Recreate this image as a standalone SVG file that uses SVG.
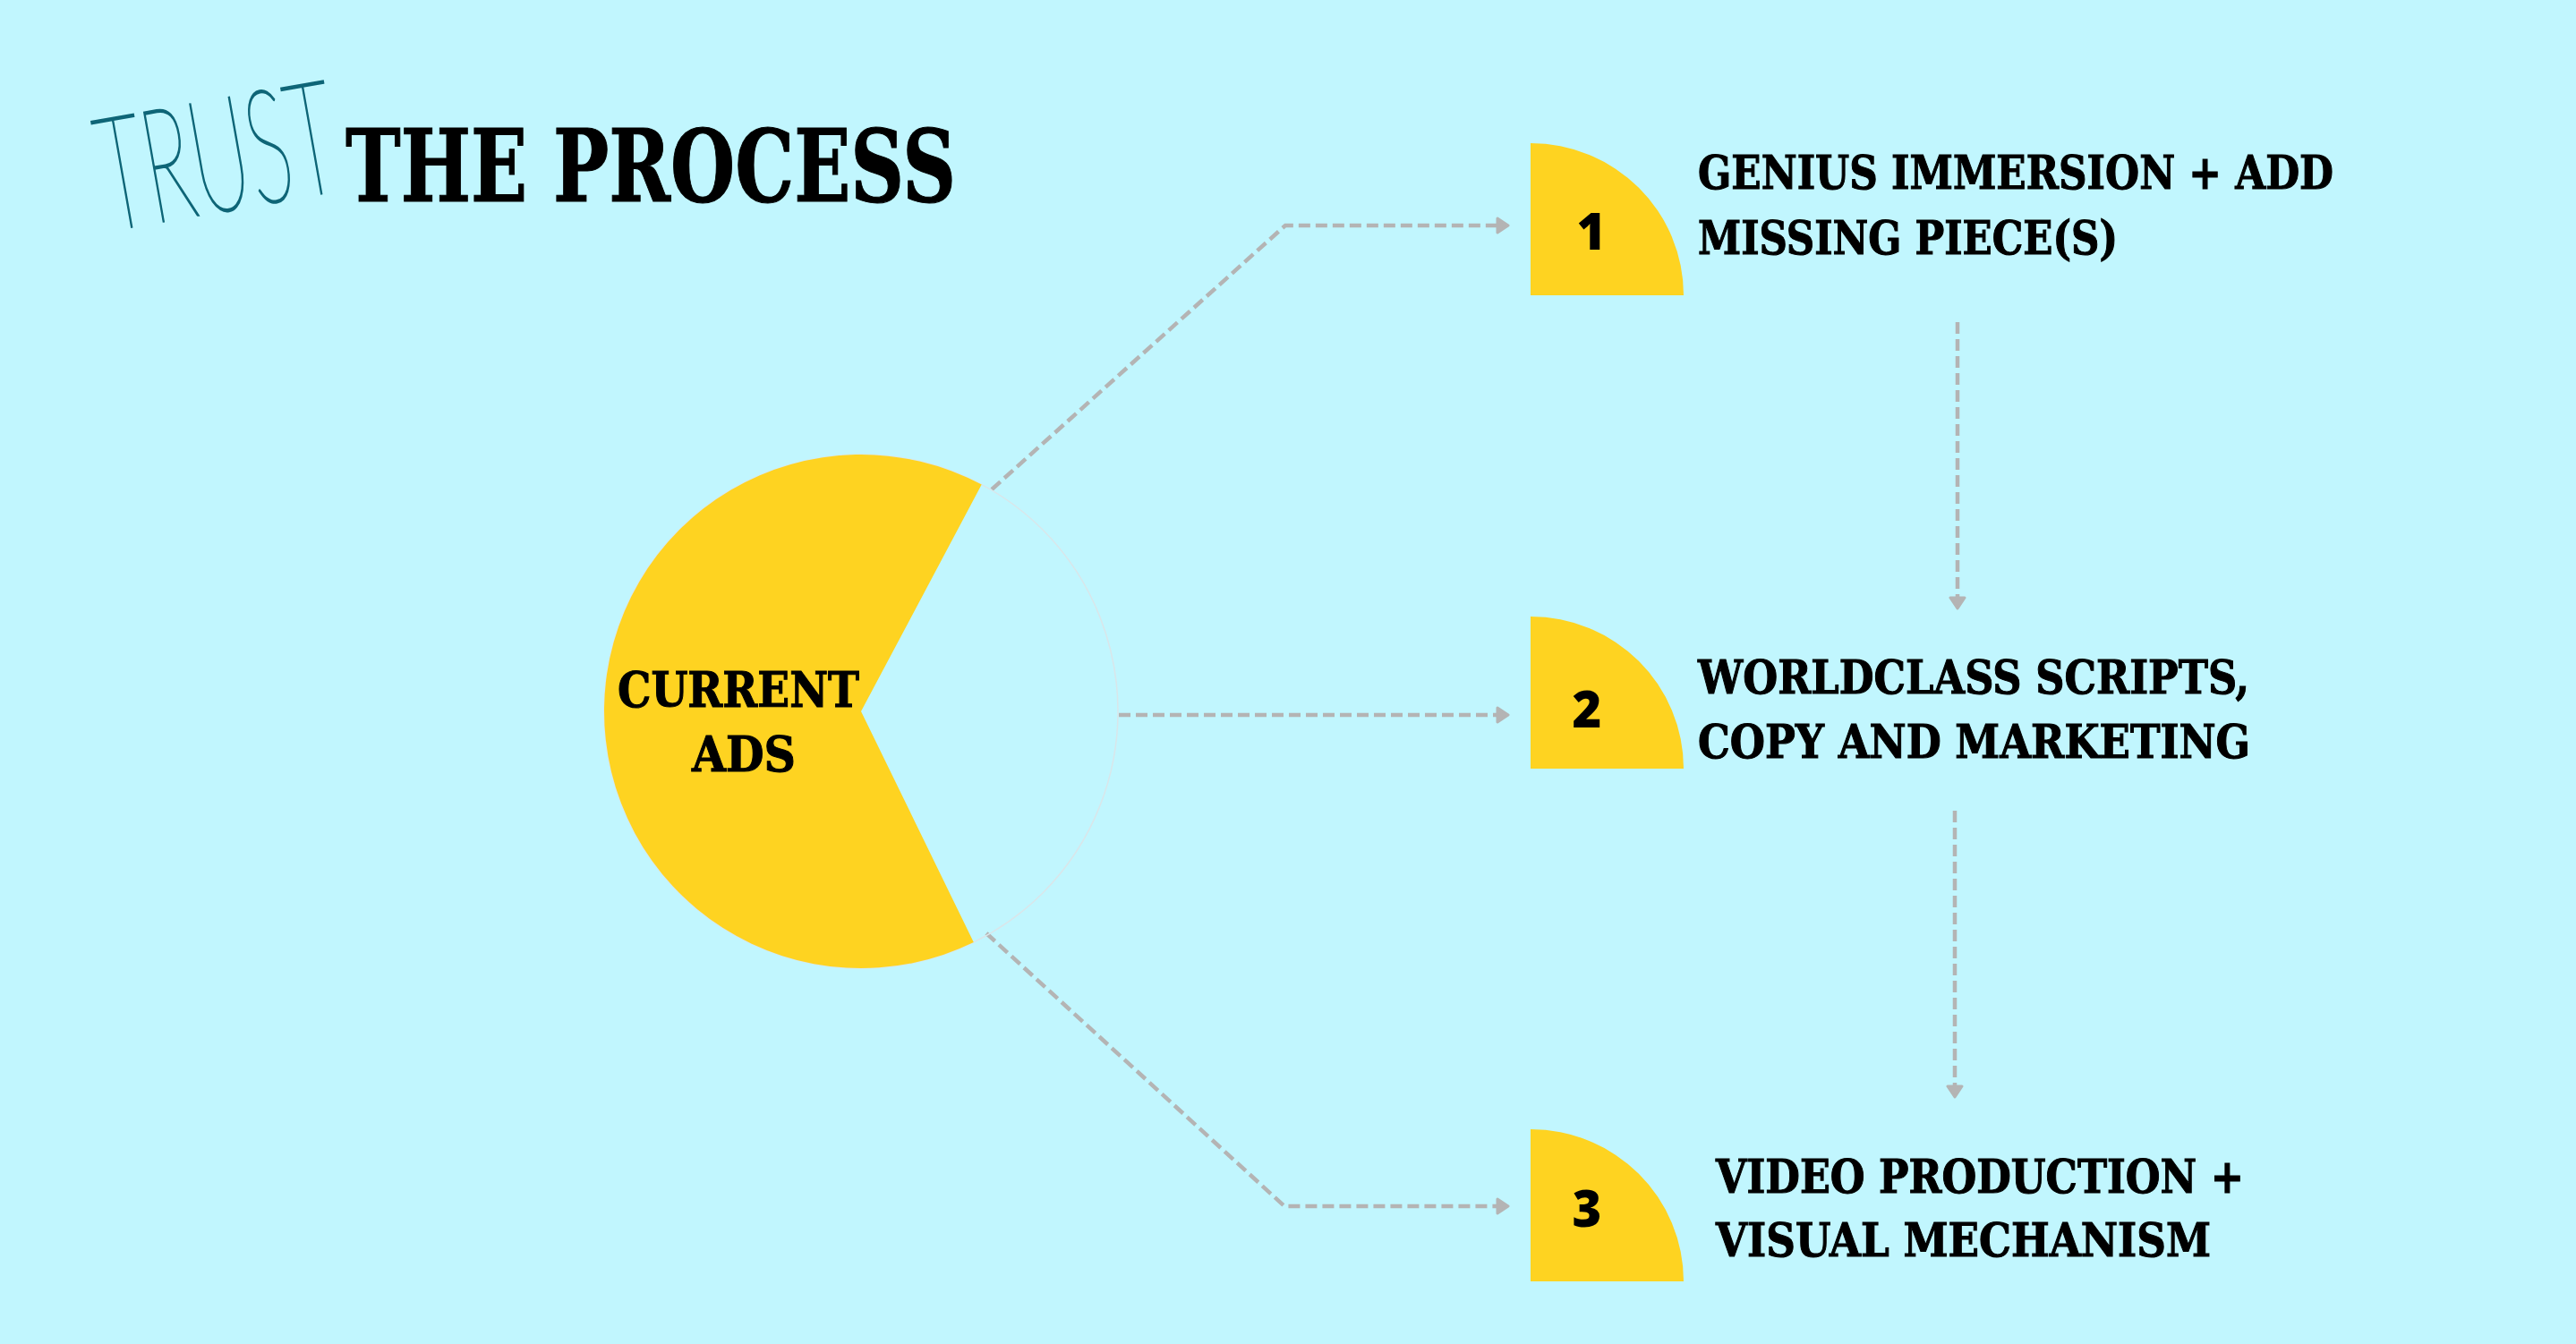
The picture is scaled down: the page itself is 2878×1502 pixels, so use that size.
<svg xmlns="http://www.w3.org/2000/svg" width="2878" height="1502" viewBox="0 0 2878 1502">
  <style>
    .slab { font-family: 'DejaVu Serif Condensed', 'DejaVu Serif', 'Liberation Serif', serif; font-weight: bold; fill: #000; stroke: #000; stroke-width: 1; }
    .num { font-family: 'Open Sans', 'DejaVu Sans', sans-serif; font-weight: 800; fill: #000; font-size: 56px; text-anchor: middle; }
    .lbl { font-size: 52px; }
    .conn { fill: none; stroke: #b4b4b4; stroke-width: 4.5; stroke-dasharray: 13 6; }
    .yellow { fill: #FED321; }
  </style>
  <defs>
    <marker id="arrow" viewBox="0 0 16 20" refX="2" refY="10" markerWidth="16" markerHeight="20" markerUnits="userSpaceOnUse" orient="auto">
      <path d="M2,2 L14,10 L2,18 Z" fill="#b4b4b4" stroke="#b4b4b4" stroke-width="3" stroke-linejoin="round"/>
    </marker>
  </defs>
  <rect x="0" y="0" width="2878" height="1502" fill="#C1F6FE"/>

  <g id="title">
    <text transform="translate(122,258) rotate(-10) scale(1,1.8)" font-family="Lato, 'Inter', 'DejaVu Sans', sans-serif" font-weight="100" font-size="98" fill="#0E6577" stroke="#0E6577" stroke-width="1.4" textLength="266" lengthAdjust="spacingAndGlyphs">TRUST</text>
    <text class="slab" x="386" y="225" font-size="112" textLength="682" lengthAdjust="spacingAndGlyphs">THE PROCESS</text>
  </g>

  <g id="connectors">
    <path class="conn" d="M1108,547 L1436,252 L1673,252" marker-end="url(#arrow)"/>
    <path class="conn" d="M1250,799 L1673,799" marker-end="url(#arrow)"/>
    <path class="conn" d="M1102,1043 L1435,1348 L1673,1348" marker-end="url(#arrow)"/>
    <path class="conn" d="M2187,360 L2187,668" marker-end="url(#arrow)"/>
    <path class="conn" d="M2184,906 L2184,1214" marker-end="url(#arrow)"/>
  </g>

  <g id="node-current-ads">
    <circle cx="962" cy="795" r="287" fill="none" stroke="#d9e6ea" stroke-width="1.5"/>
    <path class="yellow" d="M962,795 L1096.7,541.6 A287,287 0 1,0 1087.8,1053 Z"/>
    <text class="slab" x="690" y="790" font-size="55" textLength="270" lengthAdjust="spacingAndGlyphs">CURRENT</text>
    <text class="slab" x="773" y="862" font-size="55" textLength="116" lengthAdjust="spacingAndGlyphs">ADS</text>
  </g>

  <g id="node-1">
    <path class="yellow" d="M1710,330 L1710,160 A171,170 0 0,1 1881,330 Z"/>
    <text class="num" x="1778" y="279">1</text>
    <text class="slab lbl" x="1897" y="211" textLength="710" lengthAdjust="spacingAndGlyphs">GENIUS IMMERSION + ADD</text>
    <text class="slab lbl" x="1897" y="284" textLength="469" lengthAdjust="spacingAndGlyphs">MISSING PIECE(S)</text>
  </g>

  <g id="node-2">
    <path class="yellow" d="M1710,859 L1710,689 A171,170 0 0,1 1881,859 Z"/>
    <text class="num" x="1773" y="813">2</text>
    <text class="slab lbl" x="1897" y="775" textLength="616" lengthAdjust="spacingAndGlyphs">WORLDCLASS SCRIPTS,</text>
    <text class="slab lbl" x="1897" y="847" textLength="617" lengthAdjust="spacingAndGlyphs">COPY AND MARKETING</text>
  </g>

  <g id="node-3">
    <path class="yellow" d="M1710,1432 L1710,1262 A171,170 0 0,1 1881,1432 Z"/>
    <text class="num" x="1773" y="1371">3</text>
    <text class="slab lbl" x="1917" y="1333" textLength="590" lengthAdjust="spacingAndGlyphs">VIDEO PRODUCTION +</text>
    <text class="slab lbl" x="1917" y="1404" textLength="553" lengthAdjust="spacingAndGlyphs">VISUAL MECHANISM</text>
  </g>
</svg>
